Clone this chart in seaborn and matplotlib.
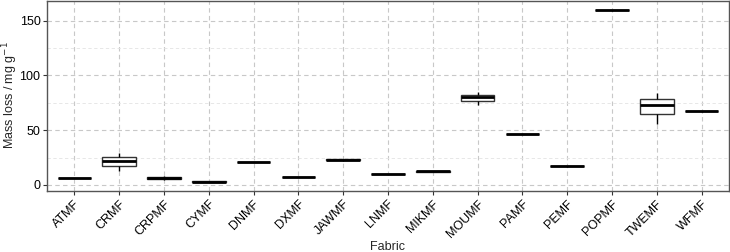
import matplotlib
matplotlib.use("Agg")
import matplotlib.pyplot as plt
import seaborn as sns
import pandas as pd
from matplotlib.ticker import MultipleLocator

fabrics = ["ATMF", "CRMF", "CRPMF", "CYMF", "DNMF", "DXMF", "JAWMF", "LNMF",
           "MIKMF", "MOUMF", "PAMF", "PEMF", "POPMF", "TWEMF", "WFMF"]
rep1 = [6.2, 13.0, 4.5, 2.4, 20.8, 7.0, 22.0, 10.0, 12.0, 73.0, 46.4, 16.8, 159.3, 56.0, 67.0]
rep2 = [6.4, 22.0, 6.0, 3.0, 21.0, 7.2, 23.0, 10.2, 12.6, 80.0, 46.7, 17.0, 159.5, 73.4, 67.4]
rep3 = [6.6, 29.0, 8.0, 3.4, 21.2, 7.4, 24.0, 10.4, 13.2, 84.5, 47.0, 17.3, 159.7, 84.3, 67.8]

df = pd.DataFrame({
    "Fabric": fabrics * 3,
    "Mass": rep1 + rep2 + rep3,
})

sns.set_theme(style="white")
plt.rcParams["font.family"] = ["Liberation Sans", "DejaVu Sans"]

fig = plt.figure(figsize=(7.3, 2.52), dpi=100)
ax = fig.add_axes([0.065, 0.242, 0.933, 0.754])

sns.boxplot(data=df, x="Fabric", y="Mass", order=fabrics, ax=ax,
            color="white", linecolor="black", linewidth=1.0, width=0.75,
            whis=10, showfliers=False, showcaps=False,
            medianprops=dict(linewidth=2.0, color="black"),
            boxprops=dict(edgecolor="#333333"))

ax.set_ylim(-5.5, 168)
ax.set_xlim(-0.6, 14.6)
ax.yaxis.set_major_locator(MultipleLocator(50))
ax.yaxis.set_minor_locator(MultipleLocator(25))
ax.grid(True, which="major", axis="both", color="#c8c8c8", linestyle=(0, (4, 3)), linewidth=0.8)
ax.grid(True, which="minor", axis="y", color="#e3e3e3", linestyle=(0, (4, 3)), linewidth=0.6)
ax.set_axisbelow(True)
for s in ax.spines.values():
    s.set_color("#555555")
    s.set_linewidth(1.0)

ax.tick_params(axis="both", which="major", length=3, width=0.8, color="#333333",
               labelsize=9, labelcolor="black", bottom=True, left=True, pad=2)
ax.tick_params(axis="y", which="minor", length=0)
plt.setp(ax.get_xticklabels(), rotation=45, ha="right", rotation_mode="anchor")
ax.set_xlabel("Fabric", fontsize=9, labelpad=1)
ax.set_ylabel("")
fig.text(10.5 / 730, 1 - 95 / 252, "Mass loss / mg g$^{-1}$", rotation=90,
         ha="center", va="center", fontsize=9)

fig.savefig("out.png", dpi=100)
